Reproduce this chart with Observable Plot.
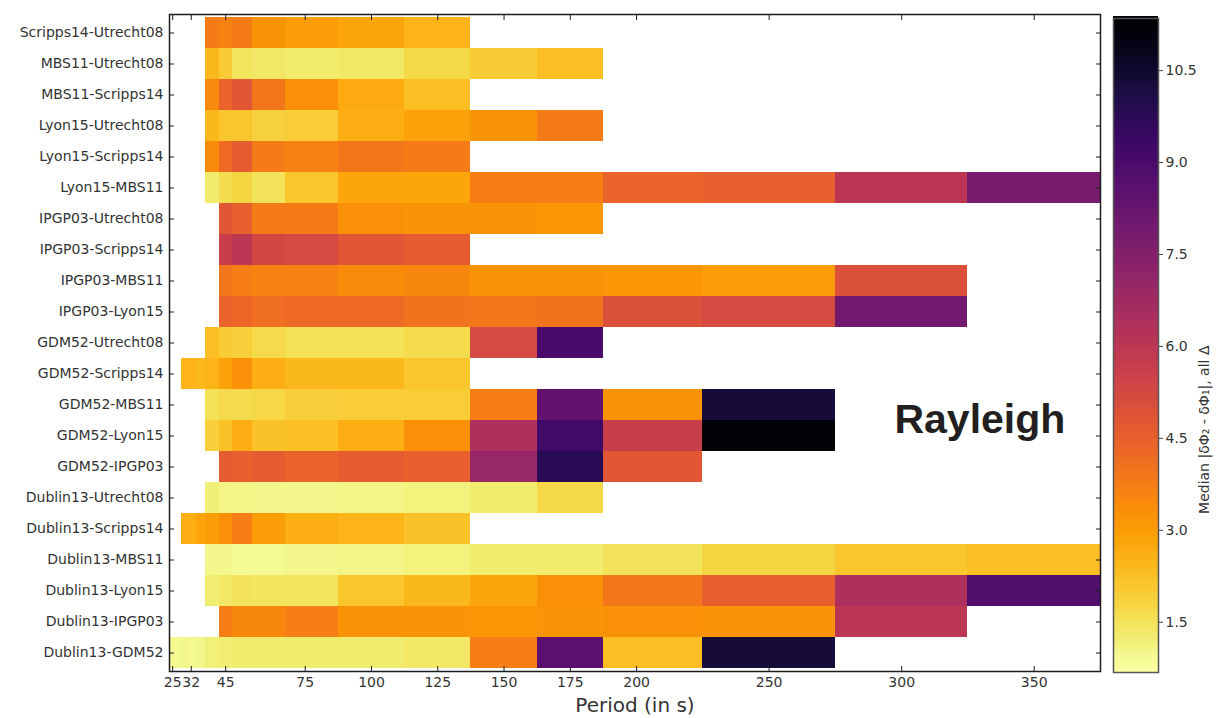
<!DOCTYPE html>
<html>
<head>
<meta charset="utf-8">
<script src="https://cdn.jsdelivr.net/npm/d3@7"></script>
<script src="https://cdn.jsdelivr.net/npm/@observablehq/plot@0.6"></script>
<style>
  body { margin: 0; background: #fff; }
  #chart { position: relative; width: 1217px; height: 718px; overflow: hidden; }
  #main { position: absolute; left: 0; top: 0; }
  #cbar { position: absolute; left: 1100px; top: 0; }
</style>
</head>
<body>
<div id="chart"><div id="main"></div><div id="cbar"></div></div>
<script>
// Station-pair rows, top to bottom
const pairs = [
  "Scripps14-Utrecht08", "MBS11-Utrecht08", "MBS11-Scripps14", "Lyon15-Utrecht08",
  "Lyon15-Scripps14", "Lyon15-MBS11", "IPGP03-Utrecht08", "IPGP03-Scripps14",
  "IPGP03-MBS11", "IPGP03-Lyon15", "GDM52-Utrecht08", "GDM52-Scripps14",
  "GDM52-MBS11", "GDM52-Lyon15", "GDM52-IPGP03", "Dublin13-Utrecht08",
  "Dublin13-Scripps14", "Dublin13-MBS11", "Dublin13-Lyon15", "Dublin13-IPGP03",
  "Dublin13-GDM52"
];

// Period bin edges (s); 17 period columns
const periodEdges = [24, 28.5, 31.3, 34, 37.5, 42.5, 47.5, 55, 67.5, 87.5, 112.5, 137.5, 162.5, 187.5, 225, 275, 325, 375];
const periodTicks = [25, 32, 45, 75, 100, 125, 150, 175, 200, 250, 300, 350];
const colorTicks = [1.5, 3.0, 4.5, 6.0, 7.5, 9.0, 10.5];
const colorDomain = [0.68, 11.35];

// Median |dPhi2 - dPhi1| per period column (null: no measurement)
const _ = null;
const scripps14Utrecht08 = [_, _, _, _, 3.8, 3.6, 3.8, 3.2, 3.0, 2.8, 2.5, _, _, _, _, _, _];
const mbs11Utrecht08     = [_, _, _, _, 2.4, 2.0, 1.45, 1.35, 1.3, 1.35, 1.7, 2.0, 2.3, _, _, _, _];
const mbs11Scripps14     = [_, _, _, _, 3.45, 4.4, 4.8, 3.9, 3.3, 2.7, 2.3, _, _, _, _, _, _];
const lyon15Utrecht08    = [_, _, _, _, 2.4, 2.1, 2.1, 1.85, 1.95, 2.6, 2.9, 3.2, 3.8, _, _, _, _];
const lyon15Scripps14    = [_, _, _, _, 3.4, 4.2, 4.6, 3.8, 3.6, 3.9, 3.8, _, _, _, _, _, _];
const lyon15MBS11        = [_, _, _, _, 1.3, 1.6, 1.8, 1.5, 2.1, 2.8, 2.8, 3.7, 3.7, 4.4, 4.5, 6.0, 7.8];
const ipgp03Utrecht08    = [_, _, _, _, _, 4.8, 4.5, 3.8, 3.8, 3.3, 3.2, 3.2, 3.1, _, _, _, _];
const ipgp03Scripps14    = [_, _, _, _, _, 5.6, 6.0, 5.3, 5.2, 4.8, 4.6, _, _, _, _, _, _];
const ipgp03MBS11        = [_, _, _, _, _, 3.9, 3.7, 3.6, 3.6, 3.4, 3.5, 3.2, 3.2, 3.1, 3.0, 5.0, _];
const ipgp03Lyon15       = [_, _, _, _, _, 4.4, 4.3, 4.1, 4.2, 4.2, 4.0, 3.9, 4.0, 5.0, 5.2, 7.9, _];
const gdm52Utrecht08     = [_, _, _, _, 2.3, 2.0, 1.9, 1.65, 1.55, 1.55, 1.65, 5.2, 9.0, _, _, _, _];
const gdm52Scripps14     = [_, 2.5, 2.5, 2.4, 2.5, 2.9, 3.3, 2.6, 2.4, 2.4, 2.1, _, _, _, _, _, _];
const gdm52MBS11         = [_, _, _, _, 1.55, 1.65, 1.65, 1.75, 1.9, 1.95, 1.95, 3.7, 8.4, 3.2, 10.3, _, _];
const gdm52Lyon15        = [_, _, _, _, 1.9, 2.2, 2.6, 2.2, 2.25, 2.6, 3.3, 6.4, 9.2, 5.6, 11.2, _, _];
const gdm52IPGP03        = [_, _, _, _, _, 4.6, 4.5, 4.6, 4.4, 4.6, 4.5, 7.0, 9.8, 4.8, _, _, _];
const dublin13Utrecht08  = [_, _, _, _, 1.2, 1.05, 1.05, 1.0, 1.0, 1.05, 1.1, 1.3, 1.7, _, _, _, _];
const dublin13Scripps14  = [_, 2.6, 2.6, 2.8, 3.0, 3.3, 3.7, 3.0, 2.6, 2.5, 2.2, _, _, _, _, _, _];
const dublin13MBS11      = [_, _, _, _, 1.0, 1.0, 0.9, 0.9, 1.0, 1.05, 1.1, 1.3, 1.3, 1.5, 1.8, 2.1, 2.3];
const dublin13Lyon15     = [_, _, _, _, 1.25, 1.35, 1.5, 1.4, 1.45, 2.1, 2.4, 2.8, 3.3, 3.9, 4.5, 6.4, 8.8];
const dublin13IPGP03     = [_, _, _, _, _, 3.7, 3.5, 3.5, 3.7, 3.2, 3.2, 3.1, 3.2, 3.3, 3.2, 6.0, _];
const dublin13GDM52      = [0.9, 1.0, 0.9, 1.0, 1.15, 1.25, 1.3, 1.3, 1.3, 1.3, 1.35, 3.7, 8.6, 2.3, 10.3, _, _];

const rowValues = [
  scripps14Utrecht08, mbs11Utrecht08, mbs11Scripps14, lyon15Utrecht08, lyon15Scripps14,
  lyon15MBS11, ipgp03Utrecht08, ipgp03Scripps14, ipgp03MBS11, ipgp03Lyon15,
  gdm52Utrecht08, gdm52Scripps14, gdm52MBS11, gdm52Lyon15, gdm52IPGP03,
  dublin13Utrecht08, dublin13Scripps14, dublin13MBS11, dublin13Lyon15, dublin13IPGP03,
  dublin13GDM52
];

// One cell per (pair, period column) with a value
const cells = [];
pairs.forEach((pair, r) => {
  rowValues[r].forEach((v, i) => {
    if (v != null) cells.push({pair, p1: periodEdges[i], p2: periodEdges[i + 1], value: v});
  });
});

const colorScale = {type: "linear", scheme: "inferno", reverse: true, domain: colorDomain};
const ink = "#333";
const frameInk = "#1c1c1c";

const main = Plot.plot({
  width: 1110,
  height: 718,
  marginLeft: 169,
  marginRight: 10,
  marginTop: 14,
  marginBottom: 47,
  style: {fontFamily: "DejaVu Sans, sans-serif", fontSize: "14px", color: ink, background: "transparent", overflow: "visible"},
  x: {domain: [23.8, 375]},
  y: {domain: pairs, padding: 0},
  color: colorScale,
  marks: [
    Plot.barX(cells, {x1: "p1", x2: "p2", y: "pair", fill: "value", inset: 0, shapeRendering: "crispEdges"}),
    Plot.axisX({anchor: "bottom", ticks: periodTicks, tickSize: -5, tickPadding: 11, label: null, stroke: frameInk, fill: ink}),
    Plot.axisX({anchor: "top", ticks: periodTicks, tickSize: -5, tickFormat: () => "", label: null, stroke: frameInk}),
    Plot.axisY({anchor: "left", tickSize: -5, tickPadding: 11, label: null, stroke: frameInk, fill: ink}),
    Plot.axisY({anchor: "right", tickSize: -5, tickFormat: () => "", label: null, stroke: frameInk}),
    Plot.frame({stroke: frameInk, strokeWidth: 1.5}),
    Plot.text(["Period (in s)"], {frameAnchor: "bottom", dy: 40, fontSize: 20, fill: ink}),
    Plot.text(["Rayleigh"], {
      x: () => 329.5, y: () => "GDM52-Lyon15", dy: -16,
      fontFamily: "Liberation Sans, Arial, sans-serif", fontWeight: "bold", fontSize: 41, fill: "#231f20"
    })
  ]
});
document.getElementById("main").appendChild(main);

// Colour bar: stacked thin rects sampled across the colour domain
const nSteps = 240;
const step = (colorDomain[1] - colorDomain[0]) / nSteps;
const strips = d3.range(nSteps).map(i => colorDomain[0] + i * step);

const cbar = Plot.plot({
  width: 117,
  height: 718,
  marginLeft: 13,
  marginRight: 59,
  marginTop: 18,
  marginBottom: 46,
  style: {fontFamily: "DejaVu Sans, sans-serif", fontSize: "14px", color: ink, background: "transparent", overflow: "visible"},
  x: {domain: [0, 1], axis: null},
  y: {domain: colorDomain},
  color: colorScale,
  marks: [
    Plot.rect(strips, {x1: () => 0, x2: () => 1, y1: d => d, y2: d => d + step * 1.6, fill: d => d + step / 2, shapeRendering: "crispEdges"}),
    Plot.frame({stroke: "#555", strokeWidth: 1.5}),
    Plot.axisY({anchor: "right", ticks: colorTicks, tickFormat: ".1f", tickSize: 4, tickPadding: 3, label: null, stroke: "#444", fill: ink}),
    Plot.text(["Median |δΦ₂ - δΦ₁|, all Δ"], {frameAnchor: "right", dx: 46, rotate: -90, fontSize: 14, fill: ink})
  ]
});
document.getElementById("cbar").appendChild(cbar);
</script>
</body>
</html>
